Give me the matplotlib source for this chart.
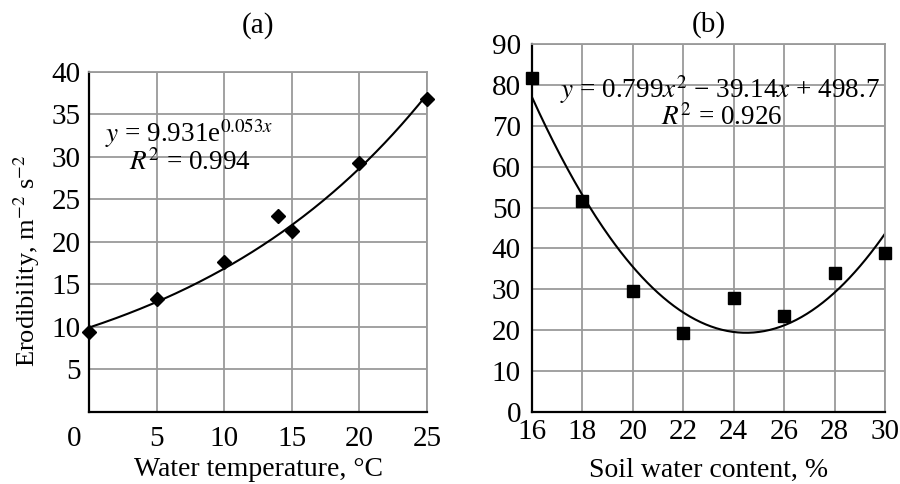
import numpy as np
import matplotlib
matplotlib.use("Agg")
import matplotlib.pyplot as plt
import matplotlib.transforms as mtransforms

plt.rcParams['font.family'] = ['Liberation Serif', 'DejaVu Serif']
plt.rcParams['mathtext.fontset'] = 'stix'
plt.rcParams['font.size'] = 20

# (a) erodibility vs water temperature
temp = [0, 5, 10, 14, 15, 20, 25]
erod_a = [9.4, 13.3, 17.7, 23.0, 21.3, 29.3, 36.8]
exp_a, exp_b = 9.931, 0.053

# (b) erodibility vs soil water content
swc = [16, 18, 20, 22, 24, 26, 28, 30]
erod_b = [81.7, 51.6, 29.6, 19.2, 27.8, 23.4, 34.1, 39.0]
quad = [0.799, -39.14, 498.7]

grid_col = '#9a9a9a'

fig = plt.figure(figsize=(9, 4.84), dpi=100)
ax1 = fig.add_axes([0.0989, 0.1488, 0.3756, 0.7025])
ax2 = fig.add_axes([0.5911, 0.1488, 0.3922, 0.7603])

for ax in (ax1, ax2):
    ax.grid(True, color=grid_col, linewidth=1.3)
    ax.set_axisbelow(True)
    ax.spines['left'].set_linewidth(1.6)
    ax.spines['bottom'].set_linewidth(1.6)
    ax.spines['top'].set_color(grid_col)
    ax.spines['right'].set_color(grid_col)
    ax.spines['top'].set_linewidth(1.3)
    ax.spines['right'].set_linewidth(1.3)
    ax.tick_params(length=0, labelsize=21)

# panel (a)
xs = np.linspace(0, 25, 200)
ax1.plot(xs, exp_a * np.exp(exp_b * xs), color='black', lw=1.5)
ax1.plot(temp, erod_a, 'D', color='black', markersize=7, clip_on=False, zorder=5)
ax1.set_xlim(0, 25)
ax1.set_ylim(0, 40)
ax1.set_xticks([0, 5, 10, 15, 20, 25])
ax1.set_yticks([5, 10, 15, 20, 25, 30, 35, 40])
ax1.tick_params(axis='x', pad=10)
ax1.tick_params(axis='y', pad=6)
lab0 = ax1.get_xticklabels()[0]
lab0.set_transform(lab0.get_transform() +
                   mtransforms.ScaledTranslation(-15 / 100, 0, fig.dpi_scale_trans))
ax1.set_xlabel('Water temperature, °C')
ax1.xaxis.set_label_coords(0.5, -0.132)
ax1.set_ylabel('Erodibility, m$^{-2}$ s$^{-2}$', fontsize=19)
ax1.yaxis.set_label_coords(-0.138, 0.445)
ax1.text(0.5, 1.138, '(a)', transform=ax1.transAxes, ha='center', va='center',
         fontsize=21)
ax1.text(0.296, 0.82, r'$y$ = 9.931e$^{0.053x}$', transform=ax1.transAxes,
         ha='center', va='center', fontsize=19.5)
ax1.text(0.299, 0.735, r'$R^2$ = 0.994', transform=ax1.transAxes,
         ha='center', va='center', fontsize=19.5)

# panel (b)
xs = np.linspace(16, 30, 200)
ax2.plot(xs, np.polyval(quad, xs), color='black', lw=1.5)
ax2.plot(swc, erod_b, 's', color='black', markersize=8, clip_on=False, zorder=5)
ax2.set_xlim(16, 30)
ax2.set_ylim(0, 90)
ax2.set_xticks(swc)
ax2.set_yticks(range(0, 91, 10))
ax2.tick_params(axis='x', pad=5)
ax2.tick_params(axis='y', pad=8)
ax2.set_xlabel('Soil water content, %')
ax2.xaxis.set_label_coords(0.5, -0.125)
ax2.text(0.5, 1.052, '(b)', transform=ax2.transAxes, ha='center', va='center',
         fontsize=21)
ax2.text(0.533, 0.875, r'$y$ = 0.799$x^2$ − 39.14$x$ + 498.7',
         transform=ax2.transAxes, ha='center', va='center', fontsize=19.5)
ax2.text(0.537, 0.799, r'$R^2$ = 0.926', transform=ax2.transAxes,
         ha='center', va='center', fontsize=19.5)

fig.savefig('out.png', dpi=100)
